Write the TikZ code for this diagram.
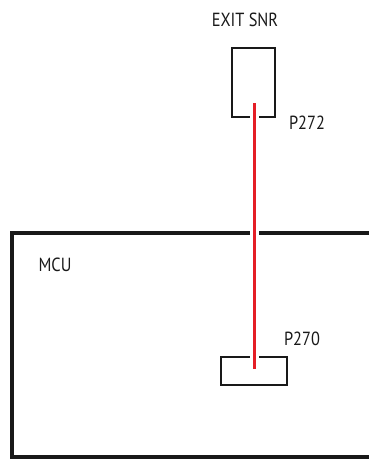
\documentclass[tikz,border=0pt]{standalone}
\usepackage{fontspec}
\setmainfont{PT Sans}
\usetikzlibrary{positioning}
\definecolor{wirered}{RGB}{228,30,38}

\begin{document}
\begin{tikzpicture}[x=1pt,y=-1pt,line join=miter,
  box/.style={draw=black!90,line width=1.6pt,minimum width=#1,inner sep=0pt},
  lbl/.style={font=\fontsize{19}{22}\selectfont,text=black!90,inner sep=0pt,
    xscale=0.86,transform shape},
  wire/.style={draw=wirered,line width=3pt,
    preaction={draw=white,line width=9pt}}]
\useasboundingbox (0,0) rectangle (369,459);
% 传感器与插头
\node[box=43pt,minimum height=69pt] (snr) at (253.5,82.5) {};
\node[lbl] (snrname) at (245,20) {EXIT SNR};
\node[lbl] (p272) at (307,123) {P272};
% 主板外框（右侧出图）
\draw[line width=3.6pt,black!90] (369,233) -- (12,233) -- (12,457) -- (369,457);
\node[lbl] (mcu) at (55,265) {MCU};
\node[box=66pt,minimum height=28pt] (pin) at (254,371) {};
\node[lbl] (p270) at (302,339) {P270};
% 连线
\coordinate (wtop) at (254,103);
\coordinate (wbot) at (254,369);
\draw[wire] (wtop) -- (wbot);
\end{tikzpicture}
\end{document}
